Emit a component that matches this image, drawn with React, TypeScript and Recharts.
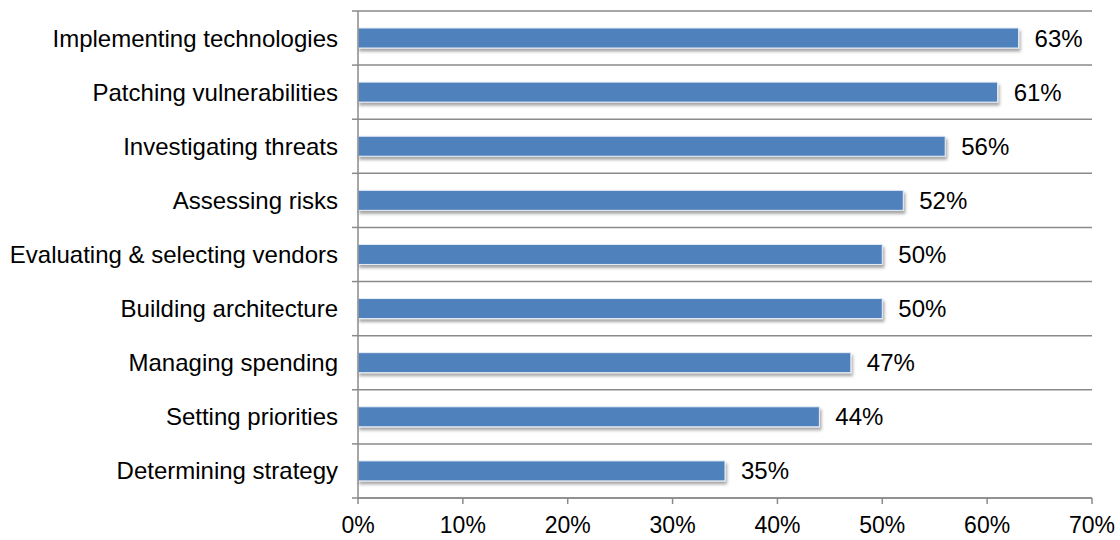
import { BarChart, Bar, XAxis, YAxis, CartesianGrid, LabelList } from "recharts";

const categories = [
  "Implementing technologies",
  "Patching vulnerabilities",
  "Investigating threats",
  "Assessing risks",
  "Evaluating & selecting vendors",
  "Building architecture",
  "Managing spending",
  "Setting priorities",
  "Determining strategy",
];
const values = [63, 61, 56, 52, 50, 50, 47, 44, 35];
const xTicks = [0, 10, 20, 30, 40, 50, 60, 70];

const data = categories.map((name, i) => ({ name, value: values[i] }));

const W = 1120;
const H = 540;
const TOP = 11;
const XAXIS_H = 42;
const BAND = (H - TOP - XAXIS_H) / categories.length;
const GRID = "#8a8a8a";
const FONT = "'Liberation Sans', Arial, sans-serif";

function CategoryTick(props: any) {
  const { x, y, payload, index } = props;
  const axisX = x + 20;
  const top = y - BAND / 2;
  return (
    <g>
      <line x1={axisX - 6} x2={axisX} y1={top} y2={top} stroke={GRID} strokeWidth={1.5} />
      {index === categories.length - 1 && (
        <line x1={axisX - 6} x2={axisX} y1={top + BAND} y2={top + BAND} stroke={GRID} strokeWidth={1.5} />
      )}
      <text x={x} y={y} textAnchor="end" dominantBaseline="central" fontSize={24} fill="#000" fontFamily={FONT}>
        {payload.value}
      </text>
    </g>
  );
}

function ShadowBar(props: any) {
  const { x, y, width, height, fill } = props;
  if (!width || width <= 0) return null;
  return (
    <rect x={x} y={y} width={width} height={height} fill={fill} stroke="#e8eef7" strokeWidth={1} filter="url(#barShadow)" />
  );
}

export default function App() {
  return (
    <div style={{ position: "absolute", left: 0, top: 0, width: W, height: H, background: "#fff" }}>
      <BarChart
        width={W}
        height={H}
        data={data}
        layout="vertical"
        margin={{ top: TOP, right: 28, bottom: 0, left: 0 }}
        style={{ fontFamily: FONT }}
      >
        <defs>
          <filter id="barShadow" x="-5%" y="-30%" width="115%" height="180%">
            <feDropShadow dx="1.5" dy="3" stdDeviation="1.8" floodColor="#000" floodOpacity="0.35" />
          </filter>
        </defs>
        <CartesianGrid
          vertical={false}
          stroke={GRID}
          strokeWidth={1.5}
          horizontalCoordinatesGenerator={({ offset }: any) =>
            Array.from({ length: categories.length + 1 }, (_, i) =>
              (offset?.top ?? TOP) + (i * (offset?.height ?? BAND * categories.length)) / categories.length
            )
          }
        />
        <XAxis
          type="number"
          domain={[0, 70]}
          ticks={xTicks}
          tickFormatter={(v: number) => `${v}%`}
          height={XAXIS_H}
          tickSize={6}
          tickMargin={13}
          interval={0}
          axisLine={{ stroke: GRID, strokeWidth: 1.5 }}
          tickLine={{ stroke: GRID, strokeWidth: 1.5 }}
          tick={{ fontSize: 23, fill: "#000", fontFamily: FONT }}
        />
        <YAxis
          type="category"
          dataKey="name"
          width={358}
          tickSize={6}
          tickMargin={14}
          interval={0}
          tickLine={false}
          axisLine={{ stroke: GRID, strokeWidth: 1.5 }}
          tick={<CategoryTick />}
        />
        <Bar dataKey="value" fill="#4f81bd" barSize={20} isAnimationActive={false} shape={<ShadowBar />}>
          <LabelList
            dataKey="value"
            position="right"
            offset={16}
            formatter={(v: any) => `${v}%`}
            style={{ fontSize: 24, fill: "#000", fontFamily: FONT }}
          />
        </Bar>
      </BarChart>
    </div>
  );
}
